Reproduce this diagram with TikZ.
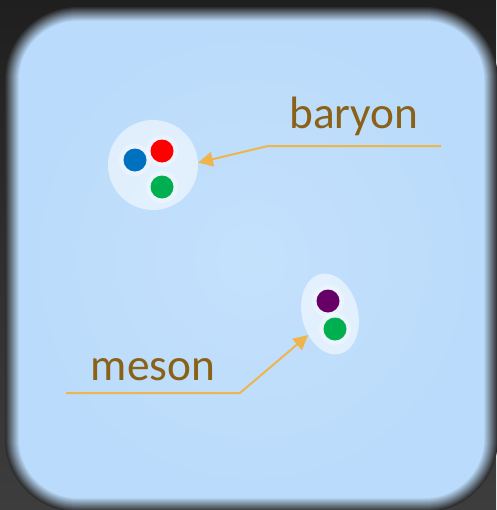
\documentclass[tikz,border=0pt]{standalone}
\usepackage{fontspec}
\setmainfont{Carlito}
\usetikzlibrary{arrows.meta,shapes.geometric}
\definecolor{bgtop}{HTML}{1F1F1F}
\definecolor{bgbot}{HTML}{3D3D3D}
\definecolor{edgedark}{HTML}{2C2C2C}
\definecolor{panel}{HTML}{BADBFB}
\definecolor{panelmid}{HTML}{C4E1FC}
\definecolor{labeltext}{HTML}{8A6116}
\definecolor{pointercol}{HTML}{EDB54B}
\definecolor{qblue}{HTML}{0070C0}
\definecolor{qred}{HTML}{FF0000}
\definecolor{qgreen}{HTML}{00B050}
\definecolor{qpurple}{HTML}{660066}
\begin{document}
\begin{tikzpicture}[x=0.75pt,y=-0.75pt,
  quark/.style={circle,inner sep=0pt,minimum size=17.25pt},
  glow/.style={fill=white,opacity=0.3},
  hadron/.style={fill=white,fill opacity=0.55,inner sep=0pt},
  tag/.style={text=labeltext,font=\fontsize{34}{40}\selectfont,inner sep=0pt,anchor=base},
  pointer/.style={draw=pointercol,line width=1.5pt,-{Triangle[length=11pt,width=11pt]}}]
  % dark surround
  \shade[top color=bgtop,bottom color=bgbot] (0,0) rectangle (496,510);
  \useasboundingbox (0,0) rectangle (496,510);
  % soft-edged panel, built from stacked insets
  \foreach \k in {0,...,14}{
    \pgfmathsetmacro\d{-7+\k}
    \pgfmathsetmacro\p{\k*100/14}
    \pgfmathsetmacro\r{(66-\d)*0.75}
    \fill[panel!\p!edgedark, rounded corners=\r pt] (12+\d,14+\d) rectangle (491-\d,505-\d);
  }
  \shade[inner color=panelmid,outer color=panel,rounded corners=44pt] (19,21) rectangle (484,498);

  % hadrons
  \node[hadron,circle,minimum size=67.5pt] (baryon) at (153,165) {};
  \node[hadron,ellipse,minimum width=42pt,minimum height=61.5pt,rotate=14] (meson) at (330,314) {};

  % quark glows
  \foreach \p in {(135,160),(162,151),(162,187),(328,301),(335,329)}
    \fill[glow] \p circle (16);

  % quarks
  \node[quark,fill=qblue] (q1) at (135,160) {};
  \node[quark,fill=qred] (q2) at (162,151) {};
  \node[quark,fill=qgreen] (q3) at (162,187) {};
  \node[quark,fill=qpurple] (q4) at (328,301) {};
  \node[quark,fill=qgreen] (q5) at (335,329) {};

  % labels
  \node[tag] (baryonlabel) at (354,128) {baryon};
  \node[tag] (mesonlabel) at (153,380) {meson};

  % pointers
  \coordinate (bstart) at (441,146);
  \coordinate (bbend) at (268,146);
  \coordinate (mstart) at (66,393);
  \coordinate (mbend) at (240,393);
  \draw[pointer] (bstart) -- (bbend) -- (baryon.3);
  \draw[pointer] (mstart) -- (mbend) -- (meson.210);
\end{tikzpicture}
\end{document}
